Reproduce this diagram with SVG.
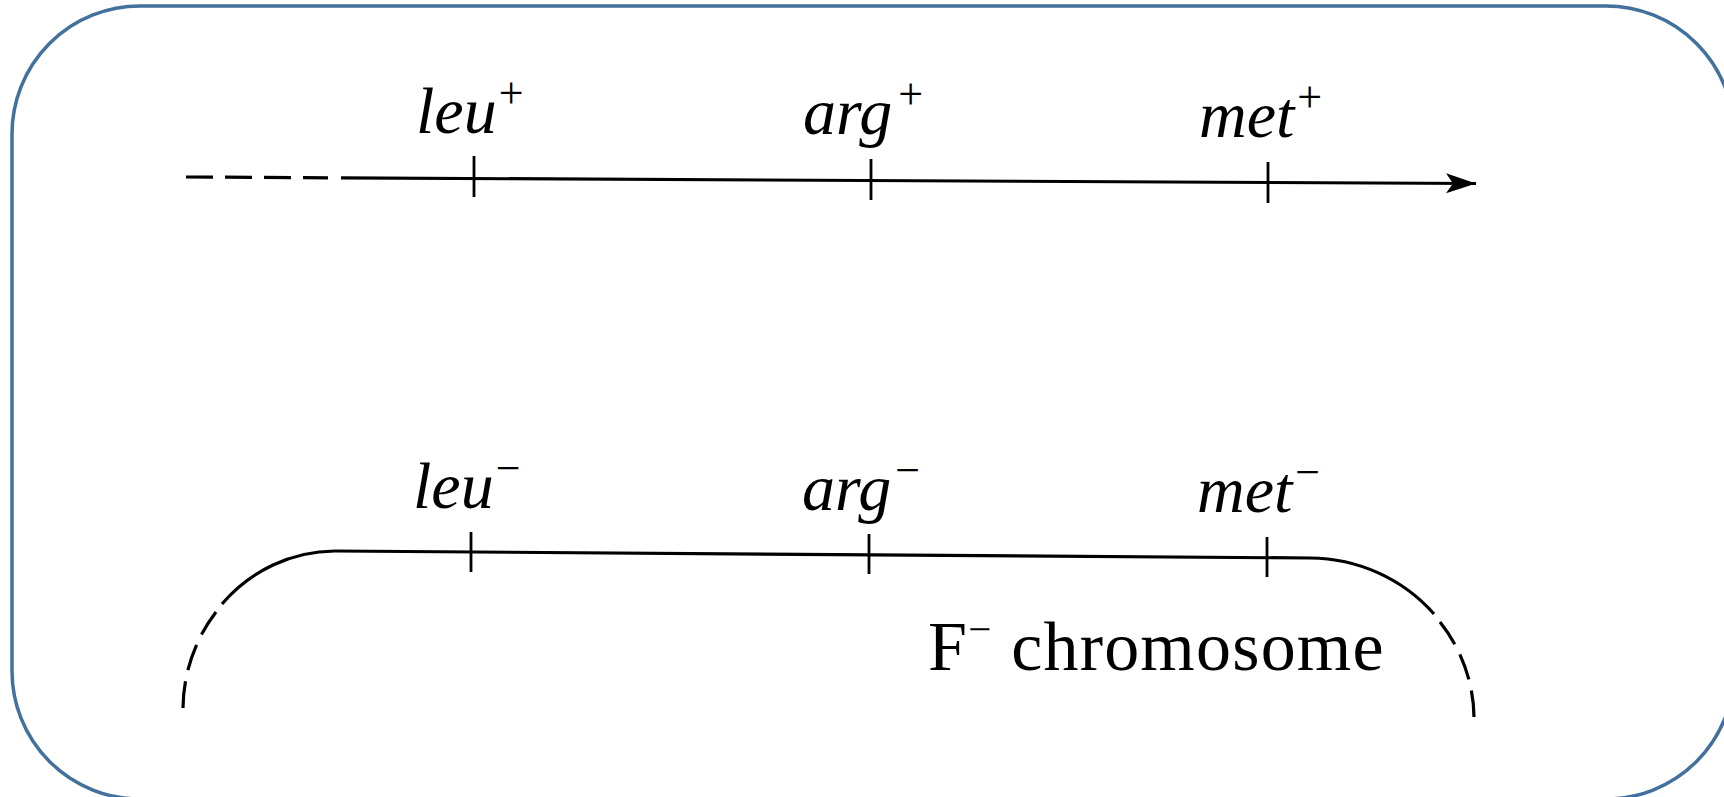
<svg xmlns="http://www.w3.org/2000/svg" width="1724" height="797" viewBox="0 0 1724 797">
<defs>
<style>
.frame{fill:#fff;stroke:#41719c;stroke-width:3.5}
.ln{fill:none;stroke:#000;stroke-width:3.2}
.dash{fill:none;stroke:#000;stroke-width:3.2;stroke-dasharray:27 12}
.dash2{fill:none;stroke:#000;stroke-width:3.2;stroke-dasharray:26 11}
.tick{stroke:#000;stroke-width:2.8}
.lbl{font-family:"Liberation Serif",serif;font-style:italic;font-size:66px;fill:#000}
.sup{font-style:normal;font-size:44px}
.cap{font-family:"Liberation Serif",serif;font-size:70px;fill:#000;letter-spacing:1.2px}
</style>
<marker id="arr" markerWidth="32" markerHeight="22" refX="30" refY="11" orient="auto" markerUnits="userSpaceOnUse">
<path d="M0,1 L30,11 L0,21 L7,11 Z" fill="#000"/>
</marker>
</defs>
<rect class="frame" x="12" y="6" width="1722" height="793" rx="128" ry="128"/>
<g id="connectors">
<path class="dash" d="M186,177 L328,177.8"/>
<path class="ln" d="M341,177.9 L1476,183.5" marker-end="url(#arr)"/>
<path class="ln" d="M335,551 L1310,558"/>
<path class="ln" d="M335,551 A152,157 0 0 0 222,604"/>
<path class="dash2" pathLength="100" d="M216,612 A152,157 0 0 0 183,708"/>
<path class="ln" d="M1310,558 A164,159 0 0 1 1434,614"/>
<path class="dash2" pathLength="100" d="M1440,622 A164,159 0 0 1 1474,717"/>
</g>
<g id="leu-plus">
<line class="tick" x1="474" y1="156" x2="474" y2="197"/>
<text class="lbl" x="416" y="133">leu<tspan class="sup" dy="-25" dx="2">+</tspan></text>
</g>
<g id="arg-plus">
<line class="tick" x1="871" y1="159" x2="871" y2="200"/>
<text class="lbl" x="803" y="134">arg<tspan class="sup" dy="-25" dx="6">+</tspan></text>
</g>
<g id="met-plus">
<line class="tick" x1="1268" y1="162" x2="1268" y2="203"/>
<text class="lbl" x="1199" y="137">met<tspan class="sup" dy="-25" dx="3">+</tspan></text>
</g>
<g id="leu-minus">
<line class="tick" x1="471" y1="532" x2="471" y2="572"/>
<text class="lbl" x="413" y="508">leu<tspan class="sup" dy="-25" dx="2">−</tspan></text>
</g>
<g id="arg-minus">
<line class="tick" x1="869" y1="534" x2="869" y2="574"/>
<text class="lbl" x="802" y="510">arg<tspan class="sup" dy="-25" dx="4">−</tspan></text>
</g>
<g id="met-minus">
<line class="tick" x1="1267" y1="537" x2="1267" y2="577"/>
<text class="lbl" x="1197" y="512">met<tspan class="sup" dy="-25" dx="3">−</tspan></text>
</g>
<g id="f-chromosome">
<text class="cap" x="928" y="670">F<tspan font-size="41" dy="-27">−</tspan><tspan dy="27"> chromosome</tspan></text>
</g>
</svg>
